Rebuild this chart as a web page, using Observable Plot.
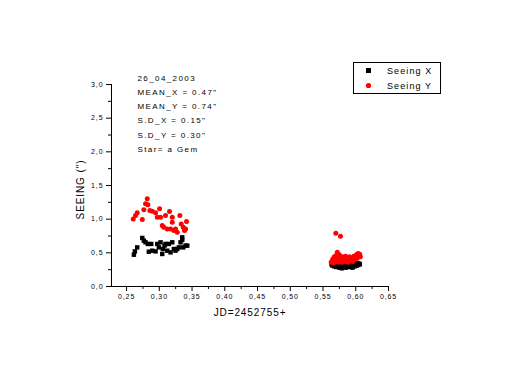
<!DOCTYPE html>
<html>
<head>
<meta charset="utf-8">
<script src="https://cdn.jsdelivr.net/npm/d3@7"></script>
<script src="https://cdn.jsdelivr.net/npm/@observablehq/plot@0.6"></script>
<style>
  html, body { margin: 0; padding: 0; background: #fff; }
</style>
</head>
<body>
<div id="chart"></div>
<script>
// Seeing X (black squares)
const seeingXJd = [
  0.2612, 0.2627, 0.2663, 0.2740, 0.2764, 0.2790, 0.2825, 0.2840, 0.2877, 0.2892,
  0.2943, 0.2969, 0.2993, 0.3019, 0.3045, 0.3054, 0.3080, 0.3095, 0.3121, 0.3146,
  0.3172, 0.3198, 0.3222, 0.3248, 0.3274, 0.3298, 0.3324, 0.3350, 0.3366, 0.3401,
  0.3427, 0.3350,
  0.5630, 0.5645, 0.5660, 0.5672, 0.5688, 0.5700, 0.5712, 0.5725, 0.5738, 0.5750,
  0.5762, 0.5775, 0.5788, 0.5800, 0.5812, 0.5825, 0.5838, 0.5850, 0.5862, 0.5875,
  0.5888, 0.5900, 0.5912, 0.5925, 0.5938, 0.5950, 0.5962, 0.5975, 0.5988, 0.6000,
  0.6012, 0.6025, 0.6038, 0.6050, 0.6062
];
const seeingX = [
  0.472, 0.522, 0.581, 0.721, 0.681, 0.656, 0.632, 0.517, 0.632, 0.532,
  0.522, 0.632, 0.581, 0.656, 0.483, 0.557, 0.607, 0.632, 0.532, 0.632,
  0.507, 0.656, 0.557, 0.532, 0.557, 0.581, 0.656, 0.730, 0.581, 0.607,
  0.607, 0.691,
  0.33, 0.31, 0.34, 0.30, 0.32, 0.29, 0.33, 0.31, 0.34, 0.28,
  0.32, 0.30, 0.27, 0.31, 0.33, 0.29, 0.32, 0.28, 0.31, 0.33,
  0.30, 0.32, 0.29, 0.33, 0.31, 0.28, 0.32, 0.34, 0.30, 0.33,
  0.31, 0.35, 0.32, 0.34, 0.33
];
// Seeing Y (red circles)
const seeingYJd = [
  0.2602, 0.2637, 0.2663, 0.2740, 0.2764, 0.2790, 0.2816, 0.2825, 0.2856, 0.2892,
  0.2943, 0.2969, 0.3004, 0.3019, 0.3045, 0.3069, 0.3095, 0.3121, 0.3156, 0.3172,
  0.3198, 0.3198, 0.3222, 0.3248, 0.3274, 0.3314, 0.3335, 0.3366, 0.3401, 0.3416,
  0.3385,
  0.5625, 0.5640, 0.5650, 0.5660, 0.5672, 0.5685, 0.5696, 0.5700, 0.5710, 0.5718,
  0.5725, 0.5735, 0.5741, 0.5750, 0.5767, 0.5760, 0.5775, 0.5785, 0.5792, 0.5800,
  0.5812, 0.5825, 0.5835, 0.5843, 0.5855, 0.5865, 0.5880, 0.5894, 0.5905, 0.5918,
  0.5930, 0.5946, 0.5958, 0.5970, 0.5985, 0.5996, 0.6010, 0.6022, 0.6035, 0.6047,
  0.6060, 0.6070
];
const seeingY = [
  1.004, 1.054, 1.094, 0.994, 1.139, 1.228, 1.302, 1.213, 1.128, 1.118,
  1.094, 1.028, 1.153, 1.028, 0.905, 0.879, 1.054, 0.855, 1.113, 0.855,
  1.028, 0.954, 0.830, 0.855, 0.805, 1.054, 0.930, 0.879, 0.855, 0.964,
  0.830,
  0.36, 0.38, 0.41, 0.35, 0.44, 0.39, 0.79, 0.46, 0.37, 0.51,
  0.42, 0.36, 0.41, 0.47, 0.745, 0.38, 0.43, 0.40, 0.36, 0.44,
  0.39, 0.42, 0.37, 0.45, 0.40, 0.43, 0.36, 0.40, 0.44, 0.38,
  0.42, 0.41, 0.37, 0.45, 0.40, 0.43, 0.47, 0.42, 0.49, 0.45,
  0.48, 0.44
];

const xTicks = [0.25, 0.30, 0.35, 0.40, 0.45, 0.50, 0.55, 0.60, 0.65];
const xMinorTicks = [0.275, 0.325, 0.375, 0.425, 0.475, 0.525, 0.575, 0.625];
const yTicks = [0.0, 0.5, 1.0, 1.5, 2.0, 2.5, 3.0];
const yMinorTicks = [0.25, 0.75, 1.25, 1.75, 2.25, 2.75];

const xDomain = [0.227, 0.65];
const yDomain = [0, 3];

const annotationLines = [
  "26_04_2003",
  "MEAN_X = 0.47\"",
  "MEAN_Y = 0.74\"",
  "S.D_X = 0.15\"",
  "S.D_Y = 0.30\"",
  "Star= a Gem"
];
const legendLabels = ["Seeing X", "Seeing Y"];
const xLabel = "JD=2452755+";
const yLabel = "SEEING (\")";

const dataX = seeingXJd.map((jd, i) => ({jd, v: seeingX[i]}));
const dataY = seeingYJd.map((jd, i) => ({jd, v: seeingY[i]}));

const commaFmt = (digits) => (d) => d.toFixed(digits).replace(".", ",");
const FONT = "Liberation Sans, Arial, sans-serif";

const plot = Plot.plot({
  width: 513,
  height: 382,
  marginLeft: 111,
  marginRight: 125,
  marginTop: 84,
  marginBottom: 96,
  style: {fontFamily: FONT, background: "#fff", color: "#000", overflow: "visible"},
  x: {domain: xDomain, axis: null},
  y: {domain: yDomain, axis: null},
  marks: [
    Plot.axisX(xTicks, {tickSize: 5, tickPadding: 3, tickFormat: commaFmt(2), fontSize: 7, label: null, stroke: "#000", fill: "#000", strokeWidth: 1}),
    Plot.axisX(xMinorTicks, {tickSize: 3, tickFormat: () => "", label: null, stroke: "#000", strokeWidth: 1}),
    Plot.axisY(yTicks, {tickSize: 5, tickPadding: 3, tickFormat: commaFmt(1), fontSize: 7, label: null, stroke: "#000", fill: "#000", strokeWidth: 1}),
    Plot.axisY(yMinorTicks, {tickSize: 3, tickFormat: () => "", label: null, stroke: "#000", strokeWidth: 1}),
    Plot.ruleY([yDomain[0]], {stroke: "#000", strokeWidth: 1}),
    Plot.ruleX([xDomain[0]], {stroke: "#000", strokeWidth: 1}),
    Plot.dot(dataX, {x: "jd", y: "v", symbol: "square", r: 2.5, fill: "#000", stroke: null}),
    Plot.dot(dataY, {x: "jd", y: "v", symbol: "circle", r: 2.5, fill: "#f00", stroke: null}),
    Plot.text([annotationLines.join("\n")], {
      text: d => d, frameAnchor: "top-left", textAnchor: "start", lineAnchor: "top",
      dx: 26, dy: -14, lineHeight: 1.78, fontSize: 8, fill: "#000",
      className: "annot"
    }),
    Plot.text([xLabel], {text: d => d, frameAnchor: "bottom", dy: 29, fontSize: 10, fill: "#000"}),
    Plot.text([yLabel], {text: d => d, frameAnchor: "left", textAnchor: "middle", dx: -31, dy: 4, rotate: -90, fontSize: 10, fill: "#000"})
  ]
});

const svg = d3.select(plot);
svg.selectAll("text").style("letter-spacing", "0.9px");
svg.selectAll(".annot text").style("letter-spacing", "1.4px");

// Legend box
const lg = svg.append("g").attr("transform", "translate(353,62)");
lg.append("rect").attr("x", 0.5).attr("y", 0.5).attr("width", 87).attr("height", 31)
  .attr("fill", "#fff").attr("stroke", "#000").attr("stroke-width", 1);
lg.append("rect").attr("x", 13).attr("y", 6).attr("width", 5).attr("height", 5).attr("fill", "#000");
lg.append("circle").attr("cx", 15.5).attr("cy", 23.5).attr("r", 2.6).attr("fill", "#f00");
lg.selectAll("text.lab").data(legendLabels).join("text")
  .attr("class", "lab")
  .attr("x", 34).attr("y", (d, i) => 8.5 + i * 15.5)
  .attr("dy", "0.35em")
  .attr("text-anchor", "start")
  .attr("font-size", 9).attr("font-family", FONT)
  .style("letter-spacing", "1.1px")
  .attr("fill", "#000")
  .text(d => d);

document.getElementById("chart").appendChild(plot);
</script>
</body>
</html>
